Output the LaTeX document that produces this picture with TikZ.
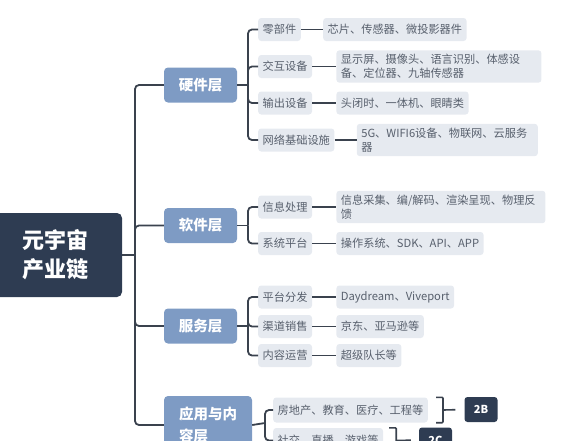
\documentclass[tikz,border=0pt]{standalone}
\usepackage{fontspec}
\setmainfont{Noto Sans CJK SC}
\usetikzlibrary{positioning}
\definecolor{rootc}{HTML}{2E3C52}
\definecolor{layerc}{HTML}{7E9BC4}
\definecolor{itemc}{HTML}{E6EAF0}
\definecolor{itemtext}{HTML}{58606D}
\definecolor{linkc}{HTML}{3A424E}
\tikzset{
  root/.style={fill=rootc, text=white, rounded corners=5pt, align=center,
    minimum width=134, minimum height=84, font=\bfseries\fontsize{22}{29}\selectfont},
  layer/.style={fill=layerc, text=white, rounded corners=4pt, align=left,
    minimum width=73, minimum height=35, font=\bfseries\fontsize{14.5}{22}\selectfont},
  item/.style={fill=itemc, text=itemtext, rounded corners=3pt, align=left,
    inner xsep=4.5pt, inner ysep=4pt, minimum height=23,
    font=\fontsize{11.2}{14}\selectfont},
  tag/.style={fill=rootc, text=white, rounded corners=3pt,
    minimum width=33, minimum height=25, font=\bfseries\fontsize{11}{13}\selectfont},
  link/.style={draw=linkc, line width=1.8pt, rounded corners=4pt},
  brace/.style={draw=linkc, line width=1.6pt, rounded corners=1pt},
}
\begin{document}
\begin{tikzpicture}[x=1pt,y=-1pt]
\clip (0,0) rectangle (565,440);
% root and layers
\node[root] (root) at (55,255) {元宇宙\\产业链};
\node[layer] (hw) at (200.5,85) {硬件层};
\node[layer] (sw) at (200.5,225.5) {软件层};
\node[layer] (srv) at (200.5,326) {服务层};
\node[layer, minimum width=88, minimum height=58] (app) at (208,425) {应用与内\\容层};
\coordinate (trunk) at (135,255);
\draw[link] (root.east) -- (trunk);
\foreach \n in {hw,sw,srv,app}
  \draw[link] (trunk) |- (\n.west);

% hardware
\node[item, anchor=west] (hw1) at (258,29.5) {零部件};
\node[item, anchor=west] (hw2) at (258,66.5) {交互设备};
\node[item, anchor=west] (hw3) at (258,103) {输出设备};
\node[item, anchor=west] (hw4) at (258,140) {网络基础设施};
\node[item, right=22pt of hw1] (hw1a) {芯片、传感器、微投影器件};
\node[item, right=24pt of hw2, text width=196pt] (hw2a) {显示屏、摄像头、语言识别、体感设\\备、定位器、九轴传感器};
\node[item, right=24pt of hw3] (hw3a) {头闭时、一体机、眼睛类};
\node[item, right=22pt of hw4, text width=172pt] (hw4a) {5G、WIFI6设备、物联网、云服务\\器};
\coordinate (hwb) at (248,85);
\draw[link] (hw.east) -- (hwb);
\foreach \n in {hw1,hw2,hw3,hw4} {
  \draw[link] (hwb) |- (\n.west);
  \draw[link] (\n.east) -- (\n a.west);
}

% software
\node[item, anchor=west] (sw1) at (258,207) {信息处理};
\node[item, anchor=west] (sw2) at (258,243.5) {系统平台};
\node[item, right=24pt of sw1, text width=200pt] (sw1a) {信息采集、编/解码、渲染呈现、物理反\\馈};
\node[item, right=24pt of sw2] (sw2a) {操作系统、SDK、API、APP};
\coordinate (swb) at (248,225.5);
\draw[link] (sw.east) -- (swb);
\foreach \n in {sw1,sw2} {
  \draw[link] (swb) |- (\n.west);
  \draw[link] (\n.east) -- (\n a.west);
}

% service
\node[item, anchor=west] (srv1) at (258,297) {平台分发};
\node[item, anchor=west] (srv2) at (258,326.5) {渠道销售};
\node[item, anchor=west] (srv3) at (258,355.5) {内容运营};
\node[item, right=24pt of srv1] (srv1a) {Daydream、Viveport};
\node[item, right=24pt of srv2] (srv2a) {京东、亚马逊等};
\node[item, right=24pt of srv3] (srv3a) {超级队长等};
\coordinate (srvb) at (248,326);
\draw[link] (srv.east) -- (srvb);
\foreach \n in {srv1,srv2,srv3} {
  \draw[link] (srvb) |- (\n.west);
  \draw[link] (\n.east) -- (\n a.west);
}

% applications
\node[item, anchor=west, minimum height=25] (app1) at (273,410) {房地产、教育、医疗、工程等};
\node[item, anchor=west, minimum height=25] (app2) at (273,440.5) {社交、直播、游戏等};
\coordinate (appb) at (265,423);
\draw[link] (app.east) -- (appb);
\foreach \n in {app1,app2}
  \draw[link] (appb) |- (\n.west);

\node[tag] (tob) at (481,409.5) {2B};
\node[tag] (toc) at (435.5,440) {2C};
\draw[brace] ([xshift=8pt]app1.north east) -| ([xshift=15pt]app1.east) |- ([xshift=8pt]app1.south east);
\draw[brace, shorten >=9pt] ([xshift=15pt]app1.east) -- (tob.west);
\draw[brace] ([xshift=6pt]app2.north east) -| ([xshift=13pt]app2.east) |- ([xshift=6pt]app2.south east);
\draw[brace, shorten >=8pt] ([xshift=13pt]app2.east) -- (toc.west);
\end{tikzpicture}
\end{document}
